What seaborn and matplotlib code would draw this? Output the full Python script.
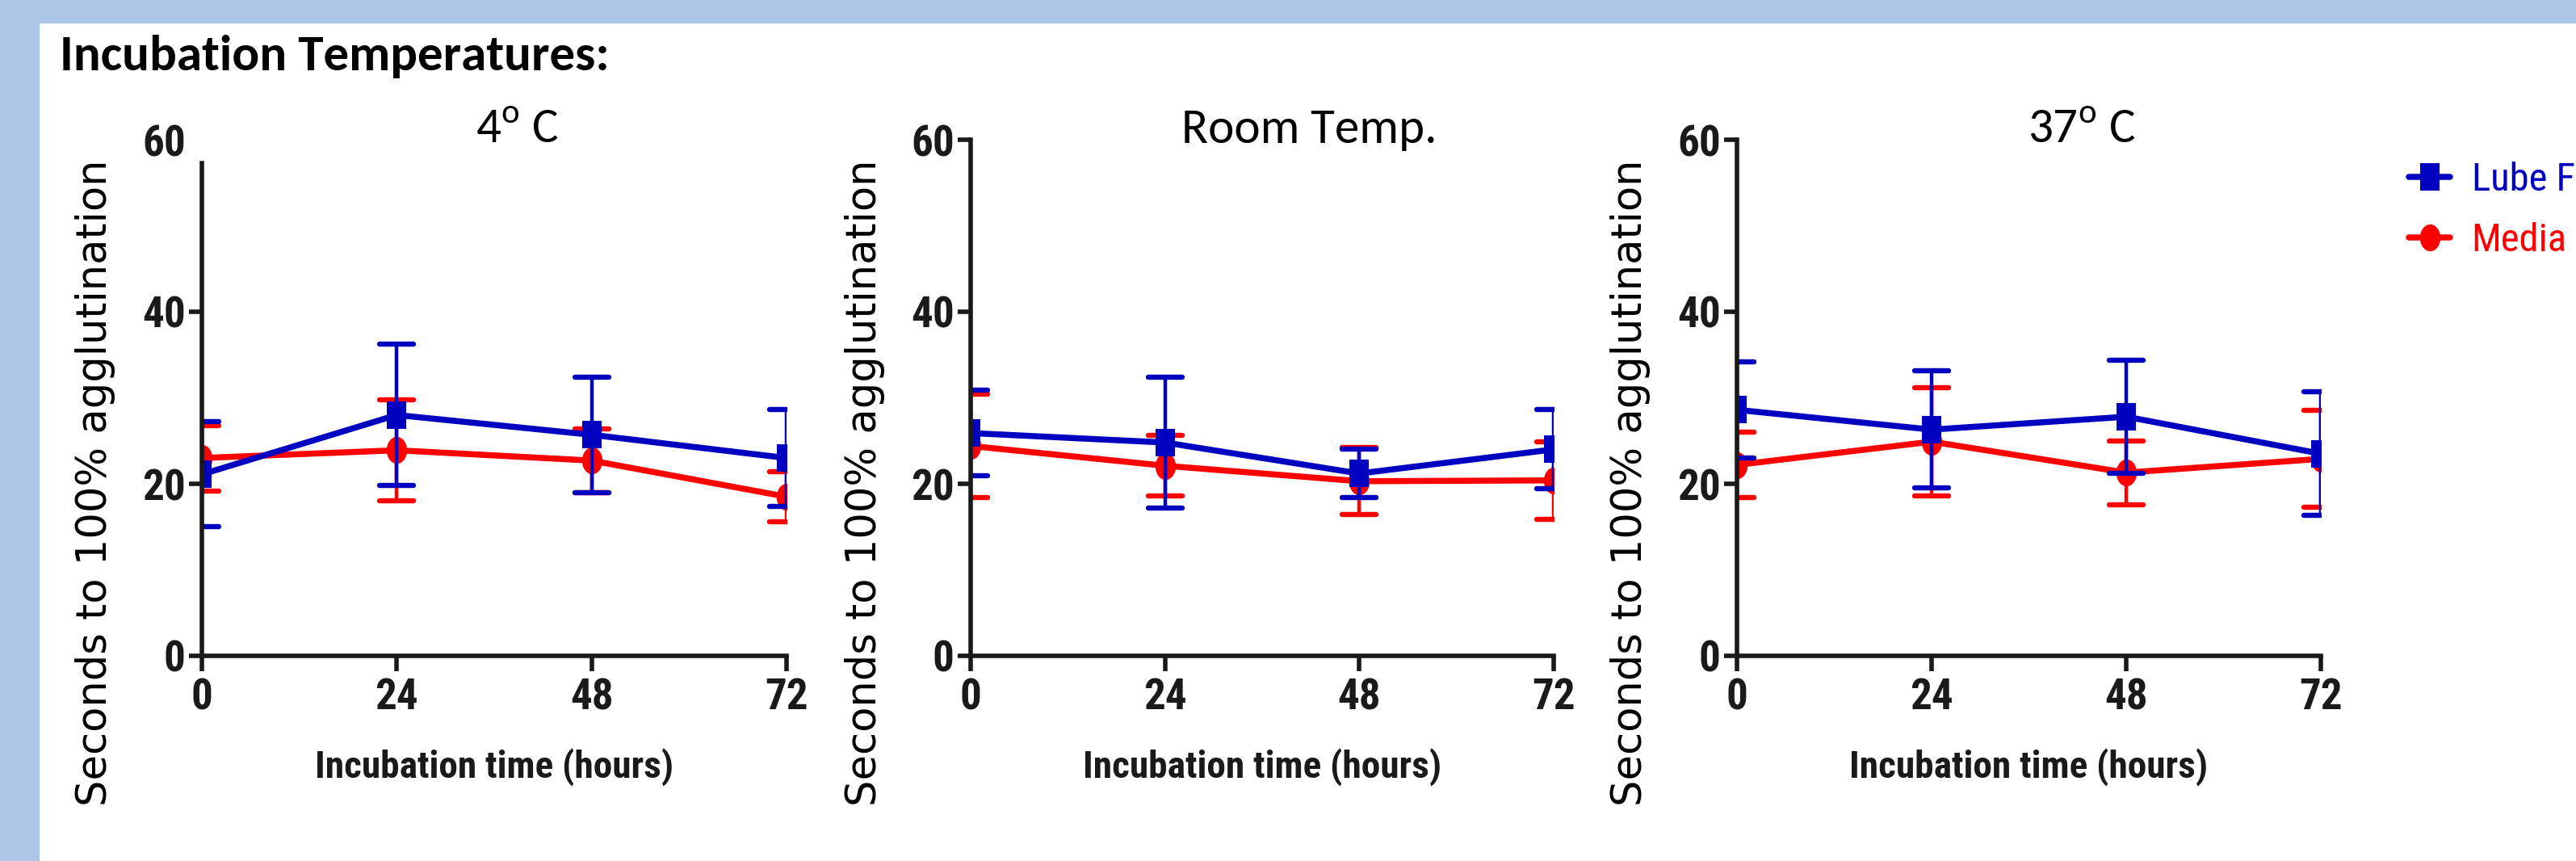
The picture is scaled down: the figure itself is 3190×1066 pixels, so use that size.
import matplotlib
matplotlib.use('Agg')
import numpy as np
import pandas as pd
import matplotlib.pyplot as plt
import seaborn as sns
from matplotlib import font_manager
from matplotlib.lines import Line2D
from matplotlib.markers import MarkerStyle
from matplotlib.patches import Rectangle
from matplotlib.path import Path
from matplotlib.transforms import Affine2D

hours = [0, 24, 48, 72]
panel_titles = [r'4$^{\mathrm{o}}$ C', 'Room Temp.', r'37$^{\mathrm{o}}$ C']
groups = ['Lube Free', 'Media']

lube_mean = [[21.1, 28.0, 25.7, 23.0], [25.9, 24.8, 21.2, 24.0], [28.6, 26.3, 27.8, 23.5]]
lube_sd = [[6.1, 8.2, 6.7, 5.6], [5.0, 7.6, 2.8, 4.6], [5.6, 6.8, 6.6, 7.2]]
media_mean = [[23.0, 23.9, 22.7, 18.5], [24.4, 22.1, 20.3, 20.4], [22.2, 24.9, 21.3, 22.9]]
media_sd = [[3.8, 5.9, 3.7, 2.9], [6.0, 3.5, 3.9, 4.5], [3.8, 6.3, 3.7, 5.6]]

y_ticks = [0, 20, 40, 60]

rows = []
for p in range(3):
    for i, h in enumerate(hours):
        rows.append({'panel': p, 'group': 'Lube Free', 'hour': h,
                     'mean': lube_mean[p][i], 'sd': lube_sd[p][i]})
        rows.append({'panel': p, 'group': 'Media', 'hour': h,
                     'mean': media_mean[p][i], 'sd': media_sd[p][i]})
df = pd.DataFrame(rows)

# ---- style ----
sns.set_theme(style='ticks')


def weight_of(f):
    w = f.weight
    if isinstance(w, str):
        w = font_manager.weight_dict.get(w, 400)
    return int(w)


bold_names = {f.name for f in font_manager.fontManager.ttflist if weight_of(f) >= 700}
names = {f.name for f in font_manager.fontManager.ttflist}


def pick(pool, *cands):
    for c in cands:
        if c in pool:
            return c
    return 'DejaVu Sans'


NARROW = pick(bold_names, 'Liberation Sans Narrow', 'Arial Narrow', 'Roboto Condensed',
              'Archivo Narrow', 'PT Sans Narrow', 'Pragati Narrow', 'Asap Condensed',
              'Barlow Semi Condensed', 'Liberation Sans')
CALIBRI = pick(names, 'Carlito', 'Lato')
plt.rcParams['font.family'] = [CALIBRI, 'DejaVu Sans']
plt.rcParams['mathtext.fontset'] = 'custom'
plt.rcParams['mathtext.rm'] = CALIBRI

BLUE = '#0000C0'
RED = '#FF0000'
INK = '#1a1a1a'
colours = {'Lube Free': BLUE, 'Media': RED}

# squares / circles in the poster are stretched vertically
square = Path([(-0.37, -0.5), (0.37, -0.5), (0.37, 0.5), (-0.37, 0.5), (-0.37, -0.5)],
              [Path.MOVETO, Path.LINETO, Path.LINETO, Path.LINETO, Path.CLOSEPOLY])
ellipse = Path.unit_circle().transformed(Affine2D().scale(0.76, 1.0))
markers = {'Lube Free': square, 'Media': ellipse}
MSIZE = 24
LW = 5.4

W, H = 3190, 1066
fig = plt.figure(figsize=(W / 100, H / 100), dpi=100)
fig.patch.set_facecolor('#ADC5E7')
fig.add_artist(Rectangle((49 / W, 0), 1 - 49 / W, 1 - 29 / H, transform=fig.transFigure,
                         facecolor='white', edgecolor='none', zorder=0))
renderer = fig.canvas.get_renderer()


def fitted_size(text, width_px, **kw):
    t = fig.text(0, 0, text, fontsize=20, **kw)
    w = t.get_window_extent(renderer=renderer).width
    t.remove()
    return 20 * width_px / w


title_size = fitted_size('Incubation Temperatures:', 680, fontweight='bold')
panel_size = fitted_size('Room Temp.', 317)
ylab_size = fitted_size('Seconds to 100% agglutination', 800, family='DejaVu Sans')
xlab_size = fitted_size('Incubation time (hours)', 444, family=NARROW, fontweight='bold')
leg_size = fitted_size('Media', 105, family=NARROW) * 1.12
tick_size = xlab_size * 1.12

fig.text(74 / W, 1 - 87 / H, 'Incubation Temperatures:', fontsize=title_size,
         fontweight='bold', ha='left', va='baseline', color='black')

x_px = [(250, 974), (1202, 1924), (2151, 2874)]
top_px, bot_px = 173, 812
title_x = [0.539, 0.580, 0.591]

for p in range(3):
    x0, x1 = x_px[p]
    ax = fig.add_axes([x0 / W, 1 - bot_px / H, (x1 - x0) / W, (bot_px - top_px) / H])
    ax.set_facecolor('none')
    sub = df[df['panel'] == p]
    z = 3
    for g in ['Media', 'Lube Free']:
        d = sub[sub['group'] == g]
        eb = ax.errorbar(d['hour'], d['mean'], yerr=d['sd'], fmt='none', ecolor=colours[g],
                         elinewidth=3.2, capsize=15, capthick=4.6, zorder=z)
        for cap in eb[1]:
            cap.set_marker(MarkerStyle('_', capstyle='round'))
        sns.lineplot(data=d, x='hour', y='mean', color=colours[g], marker=markers[g],
                     markersize=MSIZE, markeredgewidth=0, linewidth=LW, errorbar=None,
                     legend=False, ax=ax, zorder=z + 1)
        z += 2

    ax.set_xlim(0, 72)
    ax.set_ylim(0, 60)
    ax.set_xticks(hours)
    ax.set_yticks(y_ticks)
    sns.despine(ax=ax)
    for s in ['left', 'bottom']:
        ax.spines[s].set_linewidth(4.0)
        ax.spines[s].set_color(INK)
        ax.spines[s].set_zorder(10)
    ax.tick_params(axis='both', width=4.0, color=INK, labelcolor=INK, labelsize=tick_size)
    ax.tick_params(axis='x', length=14, pad=5)
    ax.tick_params(axis='y', length=11.5, pad=3)
    for lab in ax.get_xticklabels() + ax.get_yticklabels():
        lab.set_family(NARROW)
        lab.set_fontweight('bold')
    if p == 0:
        ax.spines['left'].set_bounds(0, 57.3)
        ax.yaxis.get_major_ticks()[-1].tick1line.set_visible(False)

    ax.set_xlabel('Incubation time (hours)', family=NARROW, fontweight='bold',
                  fontsize=xlab_size, color=INK)
    ax.xaxis.set_label_coords(0.5, -0.236)
    ax.xaxis.label.set_verticalalignment('baseline')
    ax.set_ylabel('Seconds to 100% agglutination', family='DejaVu Sans',
                  fontsize=ylab_size, color='black')
    ax.yaxis.set_label_coords(-0.182, 0.336)
    ax.yaxis.label.set_verticalalignment('center')
    ax.text(title_x[p], 0.994, panel_titles[p], transform=ax.transAxes, fontsize=panel_size,
            ha='center', va='baseline', color='black')

handles = [Line2D([0], [0], color=BLUE, marker=square, markersize=MSIZE, markeredgewidth=0, lw=LW),
           Line2D([0], [0], color=RED, marker=ellipse, markersize=MSIZE, markeredgewidth=0, lw=LW)]
fig.legend(handles=handles, labels=groups, loc='upper left',
           bbox_to_anchor=(2983 / W, 1 - 200 / H), frameon=False,
           prop={'family': NARROW, 'size': leg_size}, labelcolor='linecolor',
           handlelength=1.05, handletextpad=0.55, labelspacing=0.6,
           borderpad=0, borderaxespad=0)

fig.savefig('out.png', dpi=100, facecolor=fig.get_facecolor())
